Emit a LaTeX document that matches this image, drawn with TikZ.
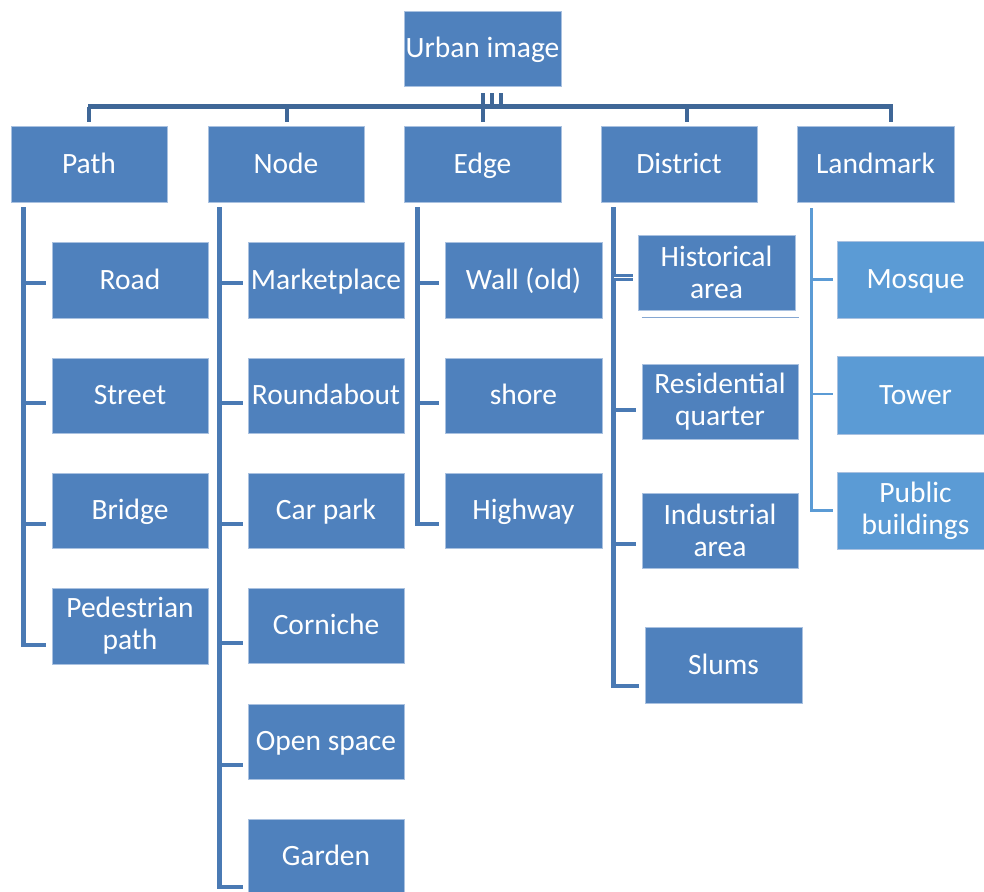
\documentclass[tikz,border=0pt]{standalone}
\usepackage{fontspec}
\setmainfont{Carlito}
\usetikzlibrary{calc}
\definecolor{boxblue}{HTML}{4F81BD}
\definecolor{lightbox}{HTML}{5B9BD5}
\definecolor{busblue}{HTML}{3F6797}
\definecolor{colblue}{HTML}{4A7AB4}
\definecolor{rimblue}{HTML}{A9C1E0}
\begin{document}
\begin{tikzpicture}[x=1pt,y=-1pt,
  box/.style={fill=boxblue, draw=rimblue, line width=0.7pt, text=white,
    minimum width=157pt, minimum height=76pt, inner sep=0pt, align=center,
    font=\fontsize{29.5}{32}\selectfont},
  one/.style={box, text height=22pt, text depth=4pt},
  lbox/.style={box, fill=lightbox},
  lone/.style={one, fill=lightbox},
  bus/.style={busblue, line width=5.5pt},
  drop/.style={busblue, line width=4pt},
  col/.style={colblue, line width=4.5pt},
  lcol/.style={lightbox, line width=2.5pt}]
\fill[white] (0,0) rectangle (984,891);
\useasboundingbox (0,0) rectangle (984,891);

% root and first level
\node[one, minimum height=75pt] (urban) at (482.5,48.5) {Urban image};
\node[one, minimum width=156pt] (path) at (89,164) {Path};
\node[one, minimum width=156pt] (node) at (286,164) {Node};
\node[one] (edge) at (482.5,164) {Edge};
\node[one, minimum width=156pt] (district) at (679,164) {District};
\node[one] (landmark) at (875.5,164) {Landmark};

% Path
\node[one, minimum width=156pt] (road) at (130,280) {Road};
\node[one, minimum width=156pt, minimum height=75pt] (street) at (130,395.5) {Street};
\node[one, minimum width=156pt, minimum height=75pt] (bridge) at (130,510.5) {Bridge};
\node[box, minimum width=156pt] (ped) at (130,626) {Pedestrian\\path};

% Node
\node[one, minimum width=156pt] (market) at (326,280) {Marketplace};
\node[one, minimum width=156pt, minimum height=75pt] (round) at (326,395.5) {Roundabout};
\node[one, minimum width=156pt, minimum height=75pt] (carpark) at (326,510.5) {Car park};
\node[one, minimum width=156pt, minimum height=75pt] (corniche) at (326,625.5) {Corniche};
\node[one, minimum width=156pt, minimum height=75pt] (openspace) at (326,741.5) {Open space};
\node[one, minimum width=156pt, minimum height=75pt] (garden) at (326,856.5) {Garden};

% Edge
\node[one] (wall) at (523.5,280) {Wall (old)};
\node[one, minimum height=75pt] (shore) at (523.5,395.5) {shore};
\node[one, minimum height=75pt] (highway) at (523.5,510.5) {Highway};

% District
\node[box, minimum height=75pt] (hist) at (716.5,272.5) {Historical\\area};
\node[box, minimum width=156pt, minimum height=75pt] (resid) at (720,401.5) {Residential\\quarter};
\node[box, minimum width=156pt, minimum height=75pt] (indus) at (720,530.5) {Industrial\\area};
\node[one] (slums) at (723.5,665) {Slums};
\draw[rimblue!60!boxblue, line width=1.5pt] ($(hist.south west)+(4,7)$) -- ($(hist.south east)+(4,7)$);

% Landmark
\node[lone, minimum height=77pt] (mosque) at (915.5,279.5) {Mosque};
\node[lone, minimum height=78pt] (tower) at (915.5,395) {Tower};
\node[lbox, minimum height=77pt] (public) at (915.5,510.5) {Public\\buildings};

% root connectors
\draw[bus] ($(path.north)+(-1,-19)$) -- ($(landmark.north)+(17.5,-19)$);
\foreach \n/\dx in {path/0, node/1, edge/0.5, district/8, landmark/15.5}
  \draw[drop] ($(\n.north)+(\dx,-19)$) -- ($(\n.north)+(\dx,-4)$);
\foreach \dx in {0,9,18}
  \draw[drop] ($(urban.south)+(\dx,7)$) -- ($(urban.south)+(\dx,21)$);

% Path column
\draw[col] ($(path.south west)+(13,5)$) |- ($(ped.west)+(-6,19)$);
\draw[col] ($(road.west)+(-6,3)$) -- ++(-24,0);
\draw[col] ($(street.west)+(-6,7.5)$) -- ++(-24,0);
\draw[col] ($(bridge.west)+(-6,13.5)$) -- ++(-24,0);

% Node column
\draw[col] ($(node.south west)+(12,5)$) |- ($(garden.west)+(-5,30.5)$);
\draw[col] ($(market.west)+(-5,3)$) -- ++(-25,0);
\draw[col] ($(round.west)+(-5,7.5)$) -- ++(-25,0);
\draw[col] ($(carpark.west)+(-5,13.5)$) -- ++(-25,0);
\draw[col] ($(corniche.west)+(-5,17.5)$) -- ++(-25,0);
\draw[col] ($(openspace.west)+(-5,23.5)$) -- ++(-25,0);

% Edge column
\draw[col] ($(edge.south west)+(14,5)$) |- ($(highway.west)+(-6,13.5)$);
\draw[col] ($(wall.west)+(-6,3)$) -- ++(-23,0);
\draw[col] ($(shore.west)+(-6,7.5)$) -- ++(-23,0);

% District column
\draw[col] ($(district.south west)+(13,5)$) |- ($(slums.west)+(-6,21)$);
\draw[col, line width=7pt] ($(hist.west)+(-5,5)$) -- ++(-21,0);
\draw[white, line width=1.3pt] ($(hist.west)+(-5,5)$) -- ++(-19,0);
\draw[col] ($(resid.west)+(-6,8.5)$) -- ++(-24,0);
\draw[col] ($(indus.west)+(-6,13.5)$) -- ++(-24,0);

% Landmark column
\draw[lcol] ($(landmark.south west)+(15,6)$) |- ($(public.west)+(-4,0)$);
\draw[lcol] ($(mosque.west)+(-4,0)$) -- ++(-22,0);
\draw[lcol] ($(tower.west)+(-4,-1)$) -- ++(-22,0);
\end{tikzpicture}
\end{document}
